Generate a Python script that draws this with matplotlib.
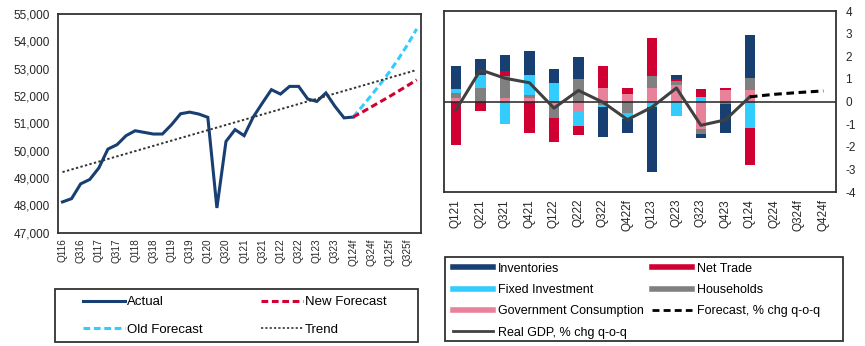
import matplotlib
matplotlib.use("Agg")
import matplotlib.pyplot as plt
from matplotlib.lines import Line2D
from matplotlib.patches import Rectangle
from matplotlib.ticker import FuncFormatter
import numpy as np

plt.rcParams['font.family'] = ['Liberation Sans', 'DejaVu Sans']
plt.rcParams['axes.unicode_minus'] = False

# ---- left chart data (real GDP level) ----
quarters = ["Q116", "Q216", "Q316", "Q416", "Q117", "Q217", "Q317", "Q417",
            "Q118", "Q218", "Q318", "Q418", "Q119", "Q219", "Q319", "Q419",
            "Q120", "Q220", "Q320", "Q420", "Q121", "Q221", "Q321", "Q421",
            "Q122", "Q222", "Q322", "Q422", "Q123", "Q223", "Q323", "Q423",
            "Q124f", "Q224f", "Q324f", "Q424f", "Q125f", "Q225f", "Q325f", "Q425f"]
actual = [48130, 48250, 48790, 48950, 49370, 50060, 50220, 50550,
          50730, 50670, 50610, 50610, 50950, 51350, 51410, 51340,
          51220, 47910, 50340, 50770, 50550, 51230, 51740, 52230,
          52070, 52350, 52350, 51890, 51800, 52110, 51620, 51200,
          51230]
old_forecast = [51230, 51620, 52020, 52440, 52880, 53360, 53880, 54450]
new_forecast = [51230, 51410, 51600, 51790, 51980, 52180, 52380, 52590]
trend_q = ["Q116", "Q425f"]
trend = [49220, 52950]

# ---- right chart data (contributions, % chg q-o-q) ----
quarters_r = ["Q121", "Q221", "Q321", "Q421", "Q122", "Q222", "Q322", "Q422f",
              "Q123", "Q223", "Q323", "Q423", "Q124", "Q224", "Q324f", "Q424f"]
gov_cons = [0.15, 0.00, 0.15, 0.15, -0.18, -0.47, 0.59, 0.34, 0.59, 0.71, -1.22, 0.52, 0.52]
households = [0.21, 0.59, 1.00, 0.15, -0.56, 1.00, -0.15, -0.50, 0.55, 0.22, -0.22, -0.10, 0.52]
fixed_inv = [0.19, 0.59, -0.99, 0.86, 0.81, -0.62, -0.10, -0.27, -0.24, -0.62, 0.21, 0.00, -1.15]
net_trade = [-1.92, -0.43, 0.18, -1.40, -1.06, -0.38, 1.00, 0.26, 1.69, 0.07, 0.34, 0.07, -1.65]
inventories = [1.03, 0.69, 0.71, 1.08, 0.63, 0.99, -1.31, -0.63, -2.88, 0.19, -0.18, -1.30, 1.92]
real_gdp = [-0.37, 1.40, 1.03, 0.83, -0.29, 0.49, -0.03, -0.80, -0.25, 0.60, -1.05, -0.81, 0.21]
forecast_q = ["Q124", "Q224", "Q324f", "Q424f"]
forecast = [0.21, 0.32, 0.40, 0.47]

navy = "#173F72"
red = "#D10032"
cyan = "#33CCFF"
grey = "#808080"
pink = "#E8819A"
dark = "#404040"
txt = "#262626"

fig = plt.figure(figsize=(8.65, 3.46), dpi=100)

# ================= left chart =================
ax1 = fig.add_axes([0.067, 0.327, 0.42, 0.633])
xi = np.arange(len(quarters))
ax1.plot(xi[:len(actual)], actual, color=navy, lw=2.2, solid_joinstyle='miter')
n0 = len(actual) - 1
ax1.plot(xi[n0:n0 + len(old_forecast)], old_forecast, color=cyan, lw=2.2,
         dashes=(2.2, 1.2))
ax1.plot(xi[n0:n0 + len(new_forecast)], new_forecast, color=red, lw=2.2,
         dashes=(2.2, 1.2))
ax1.plot([quarters.index(q) for q in trend_q], trend, color="#333333", lw=1.4,
         dashes=(1.2, 1.2))

ax1.set_xlim(-0.5, len(quarters) - 0.5)
ax1.set_ylim(47000, 55000)
ax1.set_yticks(np.arange(47000, 55001, 1000))
ax1.yaxis.set_major_formatter(FuncFormatter(lambda v, p: f"{v:,.0f}"))
ax1.set_xticks(xi[::2])
ax1.set_xticklabels(quarters[::2], rotation=90)
ax1.tick_params(axis='y', length=0, pad=6, labelsize=8.5, labelcolor=txt)
ax1.tick_params(axis='x', length=0, pad=4, labelsize=7.2, labelcolor=txt)
for s in ax1.spines.values():
    s.set_linewidth(1.3)
    s.set_color("#333333")

h_left = [Line2D([], [], color=navy, lw=2.2),
          Line2D([], [], color=cyan, lw=2.2, dashes=(2.2, 1.2)),
          Line2D([], [], color=red, lw=2.2, dashes=(2.2, 1.2)),
          Line2D([], [], color="#333333", lw=1.2, dashes=(1.3, 1.3))]
l_left = ["Actual", "Old Forecast", "New Forecast", "Trend"]
fig.legend(h_left, l_left, loc='upper left', bbox_to_anchor=(0.096, 0.144),
           bbox_transform=fig.transFigure, ncol=2, frameon=False,
           fontsize=9.5, handlelength=3.2, handletextpad=0.15,
           columnspacing=4.4, labelspacing=1.15, borderpad=0, borderaxespad=0)
fig.add_artist(Rectangle((0.0636, 0.0116), 0.42, 0.153, transform=fig.transFigure,
                         fill=False, lw=1.3, ec="#333333"))

# ================= right chart =================
ax2 = fig.add_axes([0.513, 0.445, 0.453, 0.523])
xr = np.arange(len(quarters_r))
series = [(gov_cons, pink), (households, grey), (fixed_inv, cyan),
          (net_trade, red), (inventories, navy)]
nb = len(gov_cons)
pos_bottom = np.zeros(nb)
neg_bottom = np.zeros(nb)
for vals, col in series:
    v = np.array(vals)
    b = np.where(v >= 0, pos_bottom, neg_bottom)
    ax2.bar(xr[:nb], v, 0.42, bottom=b, color=col, edgecolor='none')
    pos_bottom += np.clip(v, 0, None)
    neg_bottom += np.clip(v, None, 0)

ax2.axhline(0, color="#222222", lw=1.1)
ax2.plot(xr[:len(real_gdp)], real_gdp, color=dark, lw=2.2)
ax2.plot([quarters_r.index(q) for q in forecast_q], forecast, color="black",
         lw=2.2, dashes=(2.5, 1.5))

ax2.set_xlim(-0.5, len(quarters_r) - 0.5)
ax2.set_ylim(-4, 4)
ax2.set_yticks(np.arange(-4, 5, 1))
ax2.yaxis.tick_right()
ax2.set_xticks(xr)
ax2.set_xticklabels(quarters_r, rotation=90)
ax2.tick_params(axis='y', length=0, pad=7, labelsize=8.5, labelcolor=txt)
ax2.tick_params(axis='x', length=0, pad=5, labelsize=8.5, labelcolor=txt)
for s in ax2.spines.values():
    s.set_linewidth(1.3)
    s.set_color("#333333")

h_right = [Line2D([], [], color=navy, lw=4),
           Line2D([], [], color=cyan, lw=4),
           Line2D([], [], color=pink, lw=4),
           Line2D([], [], color=dark, lw=2),
           Line2D([], [], color=red, lw=4),
           Line2D([], [], color=grey, lw=4),
           Line2D([], [], color="black", lw=2, dashes=(2.5, 1.5))]
l_right = ["Inventories", "Fixed Investment", "Government Consumption",
           "Real GDP, % chg q-o-q", "Net Trade", "Households",
           "Forecast, % chg q-o-q"]
fig.legend(h_right, l_right, loc='upper left', bbox_to_anchor=(0.524, 0.241),
           bbox_transform=fig.transFigure, ncol=2, frameon=False,
           fontsize=9, handlelength=3.15, handletextpad=0.4,
           columnspacing=0.7, labelspacing=0.75, borderpad=0, borderaxespad=0)
fig.add_artist(Rectangle((0.514, 0.0145), 0.461, 0.243, transform=fig.transFigure,
                         fill=False, lw=1.3, ec="#333333"))

fig.savefig("out.png", dpi=100)
